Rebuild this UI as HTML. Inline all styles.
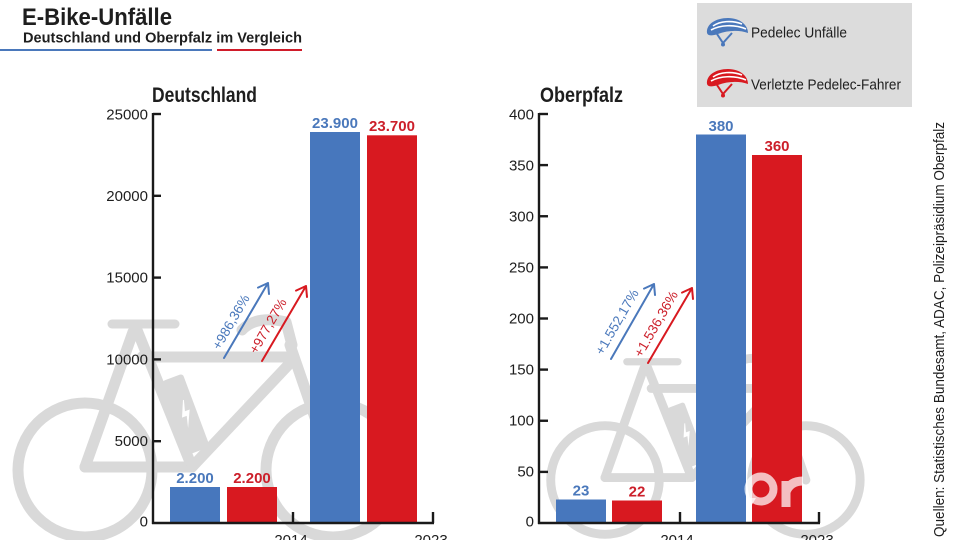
<!DOCTYPE html>
<html>
<head>
<meta charset="utf-8">
<style>
  html,body{margin:0;padding:0;background:#fff;}
  svg{display:block;}
  text{font-family:"Liberation Sans", sans-serif;}
</style>
</head>
<body>
<svg width="960" height="540" viewBox="0 0 960 540" xmlns="http://www.w3.org/2000/svg">
  <defs>
    <g id="bike">
      <g fill="none" stroke="#d9d9d9" stroke-width="11" stroke-linecap="round" stroke-linejoin="round">
        <circle cx="85" cy="470" r="67"/>
        <circle cx="333" cy="470" r="67"/>
        <line x1="133" y1="332" x2="85" y2="467"/>
        <line x1="85" y1="467" x2="192" y2="467"/>
        <line x1="137" y1="330" x2="192" y2="467"/>
        <line x1="142" y1="357" x2="293" y2="357"/>
        <line x1="192" y1="467" x2="293" y2="360"/>
        <line x1="290" y1="345" x2="333" y2="470"/>
        <path d="M242,330 Q256,315 286,322 L292,345"/>
        <line x1="112" y1="324" x2="175" y2="324" stroke-width="9"/>
      </g>
      <g transform="translate(186,414) rotate(-20.5)">
        <rect x="-11" y="-39" width="22" height="78" rx="3" fill="#d9d9d9"/>
        <polygon points="2,-14 -5,2 0,2 -3,14 5,-3 0,-3 3,-14" fill="#ffffff"/>
      </g>
    </g>
  </defs>

  <!-- Title -->
  <text x="22" y="25" font-size="24" font-weight="bold" fill="#1e1e1e" textLength="150" lengthAdjust="spacingAndGlyphs">E-Bike-Unfälle</text>
  <text x="23" y="42.5" font-size="14.5" font-weight="bold" fill="#1e1e1e" textLength="279" lengthAdjust="spacingAndGlyphs">Deutschland und Oberpfalz im Vergleich</text>
  <rect x="0" y="49" width="212" height="2" fill="#4a78bb"/>
  <rect x="217" y="49" width="85" height="2" fill="#d01c2a"/>

  <!-- Legend -->
  <rect x="697" y="3" width="215" height="104" fill="#dcdcdc"/>
  <g>
    <path d="M707,33 C706,24 716,18 728,18 C740,18 748,25 748,33 C740,30 728,30 718,34 C712,36 708,36 707,33Z" fill="#4a78bb"/>
    <path d="M713,26 C720,21 732,20 742,24 M711,30 C720,25 734,24 746,29" stroke="#ffffff" stroke-width="1.6" fill="none"/>
    <path d="M717,34 L723,43 L732,33" stroke="#4a78bb" stroke-width="2" fill="none"/>
    <circle cx="723" cy="44.5" r="2" fill="#4a78bb"/>
  </g>
  <g transform="translate(0,51)">
    <path d="M707,33 C706,24 716,18 728,18 C740,18 748,25 748,33 C740,30 728,30 718,34 C712,36 708,36 707,33Z" fill="#d81920"/>
    <path d="M713,26 C720,21 732,20 742,24 M711,30 C720,25 734,24 746,29" stroke="#ffffff" stroke-width="1.6" fill="none"/>
    <path d="M717,34 L723,43 L732,33" stroke="#d81920" stroke-width="2" fill="none"/>
    <circle cx="723" cy="44.5" r="2" fill="#d81920"/>
  </g>
  <text x="751" y="37.7" font-size="14.5" fill="#1e1e1e" textLength="96" lengthAdjust="spacingAndGlyphs">Pedelec Unfälle</text>
  <text x="751" y="89.3" font-size="14.5" fill="#1e1e1e" textLength="150" lengthAdjust="spacingAndGlyphs">Verletzte Pedelec-Fahrer</text>

  <!-- Bikes watermark -->
  <use href="#bike"/>
  <use href="#bike" transform="translate(605,480) scale(0.81) translate(-85,-470)"/>

  <!-- Chart titles -->
  <text x="152" y="102" font-size="21" font-weight="bold" fill="#1e1e1e" textLength="105" lengthAdjust="spacingAndGlyphs">Deutschland</text>
  <text x="540" y="102" font-size="21" font-weight="bold" fill="#1e1e1e" textLength="83" lengthAdjust="spacingAndGlyphs">Oberpfalz</text>

  <!-- Left bars -->
  <rect x="170" y="487" width="50" height="36" fill="#4777bd"/>
  <rect x="227" y="487" width="50" height="36" fill="#d81920"/>
  <rect x="310" y="132" width="50" height="391" fill="#4777bd"/>
  <rect x="367" y="135.3" width="50" height="387.7" fill="#d81920"/>

  <!-- Right bars -->
  <rect x="556" y="499.5" width="50" height="23.5" fill="#4777bd"/>
  <rect x="612" y="500.5" width="50" height="22.5" fill="#d81920"/>
  <rect x="696" y="134.5" width="50" height="388.5" fill="#4777bd"/>
  <rect x="752" y="155" width="50" height="368" fill="#d81920"/>

  <!-- Logo watermark -->
  <g fill="none" stroke="#ffffff" stroke-opacity="0.72">
    <circle cx="761" cy="489" r="12.5" stroke-width="8"/>
    <path d="M786,507 L786,481 M786,492 Q790,481 803,481" stroke-width="9"/>
  </g>
  <polygon points="749,498 756,498 750,508" fill="#ffffff" fill-opacity="0.72"/>

  <!-- Value labels -->
  <g font-size="15" font-weight="bold" text-anchor="middle">
    <text x="195" y="483" fill="#4a78bb">2.200</text>
    <text x="252" y="483" fill="#cc1f2a">2.200</text>
    <text x="335" y="128" fill="#4a78bb">23.900</text>
    <text x="392" y="131" fill="#cc1f2a">23.700</text>
    <text x="581" y="495.5" fill="#4a78bb">23</text>
    <text x="637" y="496.5" fill="#cc1f2a">22</text>
    <text x="721" y="131" fill="#4a78bb">380</text>
    <text x="777" y="151" fill="#cc1f2a">360</text>
  </g>

  <!-- Axes left -->
  <g stroke="#1a1a1a" stroke-width="2.4" fill="none">
    <line x1="153" y1="113" x2="153" y2="524"/>
    <line x1="152" y1="523" x2="434" y2="523"/>
    <line x1="153" y1="114" x2="161" y2="114"/>
    <line x1="153" y1="195.8" x2="161" y2="195.8"/>
    <line x1="153" y1="277.6" x2="161" y2="277.6"/>
    <line x1="153" y1="359.4" x2="161" y2="359.4"/>
    <line x1="153" y1="441.2" x2="161" y2="441.2"/>
    <line x1="293" y1="512" x2="293" y2="523"/>
    <line x1="433" y1="512" x2="433" y2="523"/>
  </g>
  <g font-size="15" fill="#1e1e1e" text-anchor="end" dominant-baseline="central">
    <text x="148" y="115">25000</text>
    <text x="148" y="196.5">20000</text>
    <text x="148" y="278">15000</text>
    <text x="148" y="360">10000</text>
    <text x="148" y="441.5">5000</text>
    <text x="148" y="522">0</text>
  </g>
  <g font-size="15" fill="#1e1e1e" text-anchor="middle">
    <text x="291" y="545">2014</text>
    <text x="431" y="545">2023</text>
    <text x="677" y="545">2014</text>
    <text x="817" y="545">2023</text>
  </g>

  <!-- Axes right -->
  <g stroke="#1a1a1a" stroke-width="2.4" fill="none">
    <line x1="539" y1="113" x2="539" y2="524"/>
    <line x1="538" y1="523" x2="820" y2="523"/>
    <line x1="539" y1="114" x2="548" y2="114"/>
    <line x1="539" y1="165.1" x2="548" y2="165.1"/>
    <line x1="539" y1="216.25" x2="548" y2="216.25"/>
    <line x1="539" y1="267.4" x2="548" y2="267.4"/>
    <line x1="539" y1="318.5" x2="548" y2="318.5"/>
    <line x1="539" y1="369.6" x2="548" y2="369.6"/>
    <line x1="539" y1="420.75" x2="548" y2="420.75"/>
    <line x1="539" y1="471.9" x2="548" y2="471.9"/>
    <line x1="680" y1="512" x2="680" y2="523"/>
    <line x1="819" y1="512" x2="819" y2="523"/>
  </g>
  <g font-size="15" fill="#1e1e1e" text-anchor="end" dominant-baseline="central">
    <text x="534" y="115">400</text>
    <text x="534" y="166">350</text>
    <text x="534" y="217">300</text>
    <text x="534" y="268">250</text>
    <text x="534" y="319">200</text>
    <text x="534" y="370">150</text>
    <text x="534" y="421">100</text>
    <text x="534" y="472">50</text>
    <text x="534" y="522">0</text>
  </g>

  <!-- Arrows -->
  <g fill="none" stroke-width="2" stroke-linecap="round" stroke-linejoin="round">
    <path d="M224,358 L268,283 M258,287.6 L268,283 L269,294" stroke="#4a78bb"/>
    <path d="M262,361 L306,286 M296,290.6 L306,286 L307,297" stroke="#d81920"/>
    <path d="M611,359 L654,284 M644,288.6 L654,284 L655,295" stroke="#4a78bb"/>
    <path d="M648,363 L692,288 M682,292.6 L692,288 L693,299" stroke="#d81920"/>
  </g>
  <g font-size="13.5" text-anchor="middle" dominant-baseline="central">
    <text x="231" y="322" transform="rotate(-60 231 322)" fill="#4a78bb" textLength="61" lengthAdjust="spacingAndGlyphs">+986,36%</text>
    <text x="268" y="326" transform="rotate(-60 268 326)" fill="#cc1f2a" textLength="61" lengthAdjust="spacingAndGlyphs">+977,27%</text>
    <text x="617" y="322" transform="rotate(-60 617 322)" fill="#4a78bb" textLength="73" lengthAdjust="spacingAndGlyphs">+1.552,17%</text>
    <text x="656" y="324" transform="rotate(-60 656 324)" fill="#cc1f2a" textLength="74" lengthAdjust="spacingAndGlyphs">+1.536,36%</text>
  </g>

  <!-- Source -->
  <text transform="translate(944,537) rotate(-90)" font-size="14.5" fill="#1e1e1e" textLength="415" lengthAdjust="spacingAndGlyphs">Quellen: Statistisches Bundesamt, ADAC, Polizeipräsidium Oberpfalz</text>
</svg>
</body>
</html>
